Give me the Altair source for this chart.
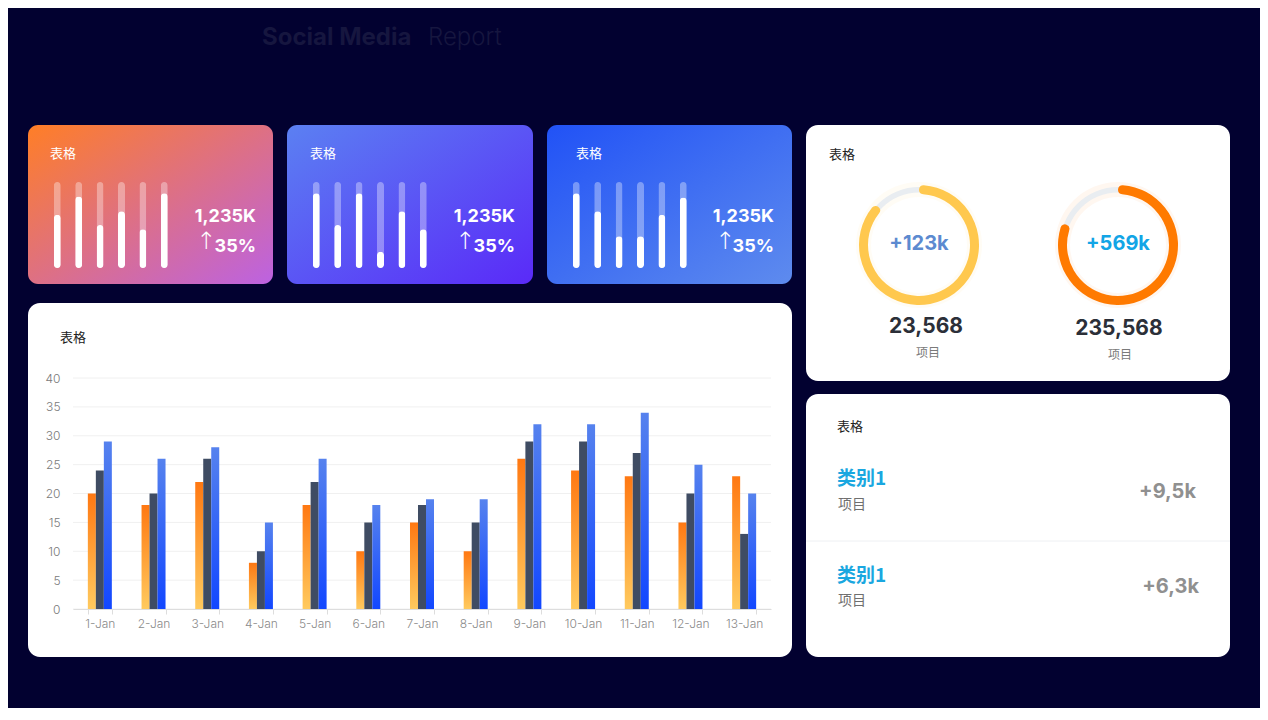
import altair as alt
import pandas as pd

# ---------------- data ----------------
dates = ["1-Jan", "2-Jan", "3-Jan", "4-Jan", "5-Jan", "6-Jan", "7-Jan",
         "8-Jan", "9-Jan", "10-Jan", "11-Jan", "12-Jan", "13-Jan"]
series_names = ["A", "B", "C"]
series_a = [20, 18, 22, 8, 18, 10, 15, 10, 26, 24, 23, 15, 23]
series_b = [24, 20, 26, 10, 22, 15, 18, 15, 29, 29, 27, 20, 13]
series_c = [29, 26, 28, 15, 26, 18, 19, 19, 32, 32, 34, 25, 20]
y_ticks = [0, 5, 10, 15, 20, 25, 30, 35, 40]

mini_idx = [1, 2, 3, 4, 5, 6]
mini_card1 = [62, 83, 50, 66, 45, 87]
mini_card2 = [87, 50, 87, 19, 66, 45]
mini_card3 = [87, 66, 37, 37, 62, 82]
card_titles = ["表格", "表格", "表格"]
card_totals = ["1,235K", "1,235K", "1,235K"]
card_pcts = ["35%", "35%", "35%"]

donut_pct = [87, 81]
donut_center = ["+123k", "+569k"]
donut_totals = ["23,568", "235,568"]
donut_labels = ["项目", "项目"]

list_names = ["类别1", "类别1"]
list_subs = ["项目", "项目"]
list_values = ["+9,5k", "+6,3k"]

panel_titles = ["表格", "表格", "表格"]

# ---------------- styling ----------------
BG = "#020130"
LAT = "Inter, 'Noto Sans CJK SC', sans-serif"
CJK = "'Noto Sans CJK SC', sans-serif"
W, H = 1252, 700

one = pd.DataFrame({"k": [0]})


def grad(c0, c1, x1=0, y1=0, x2=1, y2=1):
    return alt.Gradient(gradient="linear", x1=x1, y1=y1, x2=x2, y2=y2,
                        stops=[alt.GradientStop(offset=0, color=c0),
                               alt.GradientStop(offset=1, color=c1)])


def card(x0, x1, y0, y1, fill, r=10):
    return alt.Chart(one).mark_rect(cornerRadius=r, fill=fill).encode(
        x=alt.value(x0), x2=alt.value(x1), y=alt.value(y0), y2=alt.value(y1))


def label(s, x, y, size, color, weight=400, align="left", font=LAT):
    return alt.Chart(one).mark_text(
        fontSize=size, color=color, fontWeight=weight, align=align,
        baseline="middle", font=font).encode(
        x=alt.value(x), y=alt.value(y), text=alt.value(s))


layers = []

# cards
layers.append(card(20, 265, 117, 276, grad("#FF7E26", "#BC62E2")))
layers.append(card(279, 525, 117, 276, grad("#5B80F2", "#5A2AF8")))
layers.append(card(539, 784, 117, 276, grad("#2152F6", "#5E8BEE")))
layers.append(card(798, 1222, 117, 373, "#FFFFFF", 12))
layers.append(card(20, 784, 295, 649, "#FFFFFF", 12))
layers.append(card(798, 1222, 386, 649, "#FFFFFF", 12))

# title
layers.append(label("Social Media", 254, 30, 24, "#16163F", 700))
layers.append(label("Report", 420, 30, 24, "#16163F", 300))

# mini bar cards
card_lefts = [20, 279, 539]
mini_vals = [mini_card1, mini_card2, mini_card3]
title_x = [42, 302, 568]
arrow_x = [198, 457, 717]
right_x = [248, 507, 766]
for k in range(3):
    L = card_lefts[k]
    df = pd.DataFrame({"i": mini_idx, "v": mini_vals[k], "full": [100] * 6})
    xs = alt.X("i:O", scale=alt.Scale(range=[L + 18.6, L + 147], paddingInner=0, paddingOuter=0), axis=None)
    track = alt.Chart(df).mark_bar(width=7, cornerRadius=3.5, color="white", opacity=0.35).encode(
        x=xs, y=alt.Y("full:Q", scale=alt.Scale(domain=[0, 100], range=[260, 174]), axis=None))
    bar = alt.Chart(df).mark_bar(width=7, cornerRadius=3.5, color="white").encode(
        x=xs, y=alt.Y("v:Q", scale=alt.Scale(domain=[0, 100], range=[260, 174]), axis=None))
    layers += [track, bar]
    layers.append(label(card_titles[k], title_x[k], 146, 13, "#FFFFFF", 400, font=CJK))
    layers.append(label(card_totals[k], right_x[k], 209, 18, "#FFFFFF", 700, align="right"))
    layers.append(label(card_pcts[k], right_x[k], 239, 18, "#FFFFFF", 700, align="right"))
    layers.append(label("↑", arrow_x[k], 234, 24, "#FFFFFF", 300, align="center", font="'DejaVu Sans'"))

# main bar chart
rows = []
for d, a, b, c in zip(dates, series_a, series_b, series_c):
    rows += [{"date": d, "series": "A", "value": a},
             {"date": d, "series": "B", "value": b},
             {"date": d, "series": "C", "value": c}]
bar_df = pd.DataFrame(rows)
y_scale = alt.Scale(domain=[0, 40], range=[601, 370], nice=False)

grid = alt.Chart(pd.DataFrame({"t": y_ticks})).mark_rule(color="#F0F0F0", strokeWidth=1).encode(
    y=alt.Y("t:Q", scale=y_scale, axis=None),
    x=alt.value(65), x2=alt.value(763))
layers.append(grid)

GRAD_A = {"gradient": "linear", "x1": 0, "y1": 1, "x2": 0, "y2": 0,
          "stops": [{"offset": 0, "color": "#FFCA5E"}, {"offset": 1, "color": "#FF7812"}]}
GRAD_C = {"gradient": "linear", "x1": 0, "y1": 1, "x2": 0, "y2": 0,
          "stops": [{"offset": 0, "color": "#1247FF"}, {"offset": 1, "color": "#5682EE"}]}
main = alt.Chart(bar_df).mark_bar().encode(
    x=alt.X("date:N", sort=dates,
            scale=alt.Scale(range=[65, 763], paddingInner=0.553, paddingOuter=0.2765),
            axis=alt.Axis(orient="bottom", offset=-99, title=None, labelAngle=0,
                          labelFont=LAT, labelFontSize=12, labelFontWeight=300,
                          labelColor="#8A8A8A", tickBand="extent", tickSize=5,
                          tickColor="#DDDDDD", domainColor="#DDDDDD",
                          labelPadding=4, grid=False, zindex=1)),
    xOffset=alt.XOffset("series:N", sort=series_names,
                        scale=alt.Scale(paddingInner=0, paddingOuter=0)),
    y=alt.Y("value:Q", scale=y_scale,
            axis=alt.Axis(orient="left", offset=-65, values=y_ticks, title=None,
                          domain=False, ticks=False, labelPadding=13, grid=False,
                          labelColor="#7A7A7A", zindex=1,
                          labelFont=LAT, labelFontSize=12, labelFontWeight=300)),
    fill={"condition": [{"test": "datum.series === 'A'", "value": GRAD_A},
                        {"test": "datum.series === 'C'", "value": GRAD_C}],
          "value": "#3F4C63"},
)
layers.append(main)
layers.append(label(panel_titles[0], 52, 330, 13, "#222222", 400, font=CJK))

# donuts
centers = [(911, 237), (1110, 237)]
ring_colors = ["#FFC84E", "#FF7A00"]
center_colors = ["#5C8AD0", "#12A5E6"]
theta_scale = alt.Scale(domain=[0, 100], range=[0, 6.283185307])
for k in range(2):
    cx, cy = centers[k]
    tdf = pd.DataFrame({"s": [0], "e": [100]})
    ddf = pd.DataFrame({"s": [0], "e": [donut_pct[k]]})
    glow = alt.Chart(tdf).mark_arc(radius=63, radius2=48, color=ring_colors[k], opacity=0.06).encode(
        theta=alt.Theta("s:Q", scale=theta_scale, stack=None), theta2="e:Q",
        x=alt.value(cx), y=alt.value(cy))
    track = alt.Chart(tdf).mark_arc(radius=58, radius2=52.5, color="#E9EDF1").encode(
        theta=alt.Theta("s:Q", scale=theta_scale, stack=None), theta2="e:Q",
        x=alt.value(cx), y=alt.value(cy))
    ring = alt.Chart(ddf).mark_arc(radius=60, radius2=51, cornerRadius=4.5, color=ring_colors[k]).encode(
        theta=alt.Theta("s:Q", scale=theta_scale, stack=None), theta2="e:Q",
        x=alt.value(cx), y=alt.value(cy))
    layers += [glow, track, ring]
    layers.append(label(donut_center[k], cx, cy - 1, 20, center_colors[k], 700, align="center"))
label_pos = [(918, 319, 920, 345), (1111, 321, 1112, 347)]
for k in range(2):
    tx, ty, lx, ly = label_pos[k]
    layers.append(label(donut_totals[k], tx, ty, 21, "#2B2F38", 700, align="center"))
    layers.append(label(donut_labels[k], lx, ly, 12, "#7A7A7A", 400, align="center", font=CJK))
layers.append(label(panel_titles[1], 821, 147, 13, "#222222", 400, font=CJK))

# list card
layers.append(label(panel_titles[2], 829, 419, 13, "#222222", 400, font=CJK))
layers.append(alt.Chart(one).mark_rule(color="#EEF0F3", strokeWidth=1).encode(
    x=alt.value(798), x2=alt.value(1222), y=alt.value(533)))
list_y = [(471, 497, 484, 1188), (568, 593, 579, 1191)]
for k in range(2):
    ny, sy, vy, vx = list_y[k]
    layers.append(label(list_names[k], 829, ny, 19, "#1AA7E0", 700, font=CJK))
    layers.append(label(list_subs[k], 830, sy, 14, "#6F6F6F", 400, font=CJK))
    layers.append(label(list_values[k], vx, vy, 20, "#909090", 700, align="right"))

chart = alt.layer(*layers).resolve_scale(x="independent", y="independent").properties(
    width=W, height=H, autosize=alt.AutoSizeParams(type="none"), padding=0,
    background=BG).configure_view(stroke=None)

chart.save("out.html", embed_options={"renderer": "svg", "actions": False})
